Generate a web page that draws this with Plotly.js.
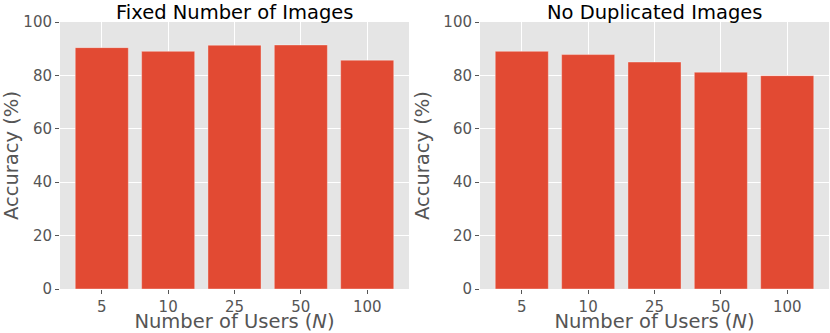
<!DOCTYPE html>
<html>
<head>
<meta charset="utf-8">
<script src="https://cdn.plot.ly/plotly-3.0.1.min.js"></script>
<style>body{margin:0;padding:0;background:#fff}#chart{width:830px;height:333px}</style>
</head>
<body>
<div id="chart"></div>
<script>
var users = ['5', '10', '25', '50', '100'];
var fixedImages = [90.4, 89.0, 91.3, 91.4, 85.7];
var noDuplicated = [89.0, 87.8, 85.0, 81.2, 79.9];
var yTicks = [0, 20, 40, 60, 80, 100];

var barColor = '#E24A33';
var font = 'DejaVu Sans, sans-serif';

var trace1 = {
    x: users,
    y: fixedImages,
    type: 'bar',
    width: 0.8,
    marker: {color: barColor, line: {color: 'rgba(255,255,255,0.45)', width: 0.8}},
    xaxis: 'x', yaxis: 'y',
    hoverinfo: 'none'
};
var trace2 = {
    x: users,
    y: noDuplicated,
    type: 'bar',
    width: 0.8,
    marker: {color: barColor, line: {color: 'rgba(255,255,255,0.45)', width: 0.8}},
    xaxis: 'x2', yaxis: 'y2',
    hoverinfo: 'none'
};

function xAxis(domain, anchor) {
    return {
        domain: domain, anchor: anchor,
        type: 'category',
        range: [-0.63, 4.63],
        showgrid: true, gridcolor: '#ffffff', gridwidth: 1,
        zeroline: false, showline: false,
        ticks: 'outside', ticklen: 4, tickcolor: '#555', tickwidth: 1,
        tickfont: {family: font, size: 15, color: '#555'},
        title: {text: 'Number of Users (<i>N</i>)', standoff: 5, font: {family: font, size: 19.5, color: '#555'}},
        automargin: false, fixedrange: true
    };
}
function yAxis(domain, anchor) {
    return {
        domain: domain, anchor: anchor,
        range: [0, 100],
        tickvals: yTicks,
        showgrid: true, gridcolor: '#ffffff', gridwidth: 1,
        zeroline: false, showline: false,
        ticks: 'outside', ticklen: 4, tickcolor: '#555', tickwidth: 1,
        tickfont: {family: font, size: 15, color: '#555'},
        title: {text: 'Accuracy (%)', standoff: 8, font: {family: font, size: 19.5, color: '#555'}},
        automargin: false, fixedrange: true
    };
}

var yDom = [1 - 289 / 333, 1 - 22 / 333];

var layout = {
    width: 830, height: 333,
    margin: {l: 0, r: 0, t: 0, b: 0},
    paper_bgcolor: '#ffffff',
    plot_bgcolor: '#E5E5E5',
    showlegend: false,
    bargap: 0.2,
    xaxis: xAxis([60 / 830, 409 / 830], 'y'),
    yaxis: yAxis(yDom, 'x'),
    xaxis2: xAxis([480 / 830, 829 / 830], 'y2'),
    yaxis2: yAxis(yDom, 'x2'),
    annotations: [
        {text: 'Fixed Number of Images', xref: 'paper', yref: 'paper',
         x: (60 + 409) / 2 / 830, y: 1, xanchor: 'center', yanchor: 'top', borderpad: 0,
         showarrow: false, font: {family: font, size: 19.5, color: '#000'}},
        {text: 'No Duplicated Images', xref: 'paper', yref: 'paper',
         x: (480 + 829) / 2 / 830, y: 1, xanchor: 'center', yanchor: 'top', borderpad: 0,
         showarrow: false, font: {family: font, size: 19.5, color: '#000'}}
    ]
};

Plotly.newPlot('chart', [trace1, trace2], layout, {displayModeBar: false, staticPlot: true});
</script>
</body>
</html>
